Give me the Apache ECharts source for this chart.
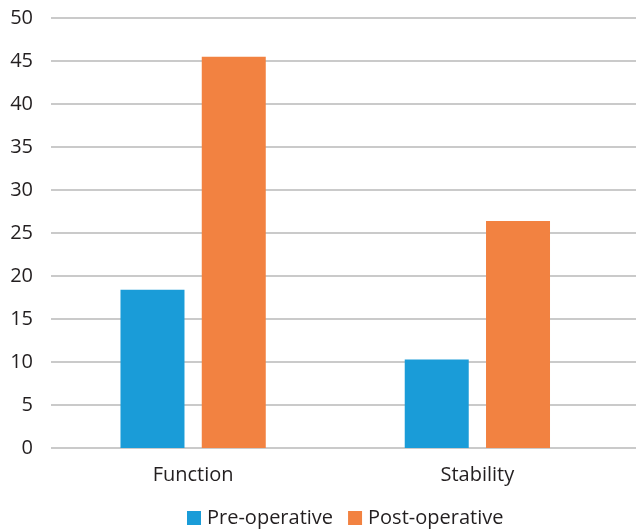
<!DOCTYPE html>
<html><head><meta charset="utf-8">
<script src="https://cdn.jsdelivr.net/npm/echarts@6/dist/echarts.min.js"></script>
<style>html,body{margin:0;padding:0;background:#fff}#c{width:636px;height:531px}</style>
</head><body><div id="c"></div>
<script>
const categories = ['Function', 'Stability'];
const seriesNames = ['Pre-operative', 'Post-operative'];
const preValues = [18.4, 10.3];
const postValues = [45.5, 26.4];
const yTicks = [0, 5, 10, 15, 20, 25, 30, 35, 40, 45, 50];

const font = 'Open Sans';
const textColor = '#231f20';
const chart = echarts.init(document.getElementById('c'));
chart.setOption({
  animation: false,
  textStyle: { fontFamily: font },
  legend: {
    data: seriesNames,
    left: 182, top: 502,
    itemWidth: 14, itemHeight: 14, itemGap: 15,
    textStyle: { fontFamily: font, fontSize: 20, color: textColor, lineHeight: 22, padding: [0, 0, 0, 1] },
    icon: 'rect'
  },
  grid: [
    { left: 51, right: 16.5, top: 18, bottom: 83 },
    { left: 51, right: 0, top: 18, bottom: 83 }
  ],
  xAxis: [
    { type: 'category', gridIndex: 0, data: categories,
      axisLine: { show: false }, axisTick: { show: false },
      axisLabel: { fontFamily: font, fontSize: 20, color: textColor, margin: 17 } },
    { type: 'value', gridIndex: 1, min: 0, max: 1, show: false }
  ],
  yAxis: [
    { type: 'value', gridIndex: 0, min: yTicks[0], max: yTicks[yTicks.length - 1], interval: 5,
      axisLine: { show: false }, axisTick: { show: false }, splitLine: { show: false },
      axisLabel: { fontFamily: font, fontSize: 20, color: textColor, margin: 18 } },
    { type: 'value', gridIndex: 1, min: yTicks[0], max: yTicks[yTicks.length - 1], interval: 5,
      axisLine: { show: false }, axisTick: { show: false }, axisLabel: { show: false },
      splitLine: { show: true, lineStyle: { color: '#b8b8b8', width: 1.5 } } }
  ],
  series: [
    { name: seriesNames[0], type: 'bar', data: preValues, xAxisIndex: 0, yAxisIndex: 0,
      barWidth: 64, barGap: '27%', itemStyle: { color: '#1a9cd8' } },
    { name: seriesNames[1], type: 'bar', data: postValues, xAxisIndex: 0, yAxisIndex: 0,
      barWidth: 64, barGap: '27%', itemStyle: { color: '#f28241' } }
  ]
});
</script></body></html>
